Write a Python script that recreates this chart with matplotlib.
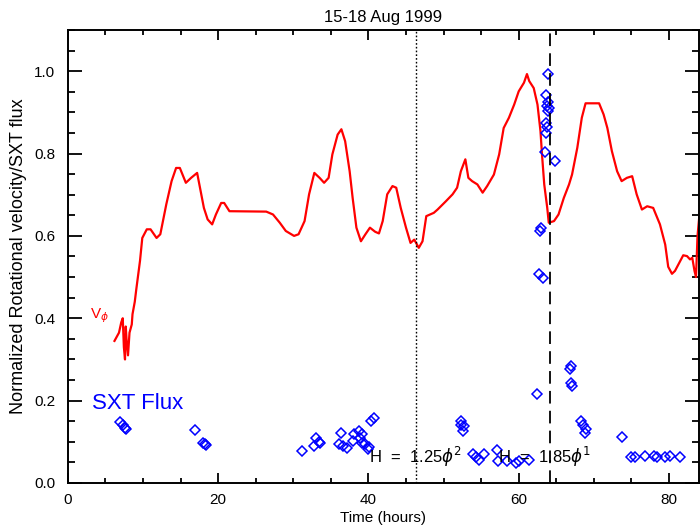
import matplotlib
matplotlib.use("Agg")
import matplotlib.pyplot as plt
from matplotlib.ticker import MultipleLocator, FormatStrFormatter

plt.rcParams['font.family'] = ['Liberation Sans', 'DejaVu Sans']
plt.rcParams['mathtext.fontset'] = 'dejavusans'

# Normalized rotational velocity V_phi (red curve)
vphi_t = [6.2, 6.8, 7.1, 7.3, 7.45, 7.6, 7.7, 7.8, 8.0, 8.2, 8.5, 8.6, 8.9, 9.1,
          9.6, 9.9, 10.5, 11.0, 11.8, 12.3, 13.1, 13.8, 14.4, 14.9, 15.7, 16.4,
          17.2, 17.5, 18.1, 18.6, 19.2, 19.7, 20.4, 20.8, 21.5, 26.4, 27.3, 28.2,
          29.0, 30.1, 30.7, 31.5, 32.1, 32.8, 33.5, 34.1, 34.7, 35.2, 35.9, 36.4,
          36.9, 37.5, 37.9, 38.4, 39.0, 39.6, 40.2, 40.9, 41.4, 41.9, 42.5, 43.2,
          43.7, 44.3, 45.0, 45.6, 46.1, 46.7, 47.2, 47.7, 48.7, 49.2, 50.3, 51.2,
          51.8, 52.3, 52.9, 53.3, 53.8, 54.5, 55.2, 55.8, 56.7, 57.4, 58.0, 58.7,
          59.4, 60.0, 60.7, 61.1, 61.4, 62.0, 62.5, 62.9, 63.1, 63.4, 63.8, 64.0,
          64.7, 65.3, 66.0, 66.7, 67.1, 67.8, 68.4, 68.9, 70.7, 71.3, 71.8, 72.4,
          73.1, 73.7, 74.4, 75.1, 75.7, 76.4, 77.1, 77.9, 78.8, 79.5, 79.9, 80.4,
          80.8, 81.5, 81.9, 82.4, 82.8, 83.1, 83.4, 83.6, 83.8, 84.2]
vphi_v = [0.345, 0.365, 0.39, 0.40, 0.33, 0.30, 0.38, 0.35, 0.31, 0.365, 0.385,
          0.41, 0.44, 0.47, 0.54, 0.595, 0.616, 0.616, 0.595, 0.604, 0.677, 0.733,
          0.765, 0.765, 0.729, 0.741, 0.753, 0.725, 0.668, 0.640, 0.628, 0.652,
          0.680, 0.680, 0.660, 0.659, 0.652, 0.632, 0.612, 0.600, 0.604, 0.636,
          0.701, 0.753, 0.741, 0.729, 0.741, 0.798, 0.846, 0.859, 0.830, 0.757,
          0.692, 0.620, 0.587, 0.604, 0.620, 0.610, 0.606, 0.636, 0.701, 0.721,
          0.717, 0.668, 0.620, 0.583, 0.591, 0.571, 0.587, 0.648, 0.656, 0.664,
          0.684, 0.701, 0.717, 0.757, 0.786, 0.741, 0.733, 0.725, 0.705, 0.721,
          0.749, 0.798, 0.862, 0.887, 0.919, 0.951, 0.972, 0.993, 0.976, 0.959,
          0.919, 0.854, 0.798, 0.725, 0.668, 0.632, 0.636, 0.652, 0.692, 0.725,
          0.749, 0.814, 0.887, 0.922, 0.922, 0.895, 0.862, 0.806, 0.757, 0.733,
          0.741, 0.745, 0.701, 0.664, 0.672, 0.668, 0.628, 0.579, 0.525, 0.508,
          0.515, 0.539, 0.553, 0.551, 0.543, 0.547, 0.515, 0.50, 0.60, 0.68]

# Normalized SXT flux (blue diamonds)
sxt_t = [6.9, 7.3, 7.6, 7.7, 16.9, 18.0, 18.2, 18.4, 31.2, 32.8, 33.0, 33.4, 33.6,
         36.3, 36.1, 36.6, 37.2, 37.9, 38.1, 38.8, 38.9, 39.1, 39.1, 39.5, 39.9,
         40.1, 40.3, 40.8, 52.3, 52.3, 52.6, 52.7, 53.9, 54.3, 54.7, 55.4, 57.1,
         57.3, 58.5, 59.6, 60.1, 61.4, 62.5, 62.7, 63.2, 62.9, 63.0, 63.5, 63.6,
         63.8, 63.7, 63.9, 63.8, 64.0, 63.9, 63.7, 63.9, 64.8, 66.9, 66.8, 67.0,
         67.1, 68.3, 68.5, 68.9, 68.8, 73.7, 74.9, 75.5, 76.8, 78.0, 78.4, 79.5,
         80.2, 81.5]
sxt_v = [0.148, 0.141, 0.134, 0.130, 0.129, 0.098, 0.094, 0.093, 0.078, 0.090,
         0.110, 0.100, 0.097, 0.122, 0.094, 0.090, 0.086, 0.102, 0.118, 0.126,
         0.110, 0.120, 0.098, 0.094, 0.082, 0.088, 0.150, 0.158, 0.150, 0.140,
         0.126, 0.138, 0.070, 0.063, 0.057, 0.070, 0.081, 0.053, 0.053, 0.049,
         0.053, 0.055, 0.215, 0.507, 0.498, 0.612, 0.620, 0.804, 0.851, 0.865,
         0.875, 0.903, 0.915, 0.910, 0.924, 0.942, 0.992, 0.782, 0.284, 0.276,
         0.243, 0.236, 0.150, 0.142, 0.130, 0.122, 0.112, 0.063, 0.063, 0.065,
         0.065, 0.062, 0.062, 0.065, 0.063]

# Event times marked by vertical lines
t_dotted = 46.3
t_dashed = 64.2

fig = plt.figure(figsize=(7.0, 5.31), dpi=100)
ax = fig.add_axes([0.097, 0.0904, 0.9016, 0.8531])

ax.plot(vphi_t, vphi_v, color='#ff0000', lw=1.6)
ax.plot(sxt_t, sxt_v, ls='none', marker='D', ms=5.2, mfc='none',
        mec='#0000ff', mew=1.1)

ax.axvline(t_dotted, color='black', lw=1.0, ls=(0, (1.2, 1.5)))
ax.axvline(t_dashed, color='black', lw=1.3, ls=(0, (7, 4)))

ax.text(2.9, 0.40, r'V$_{\phi}$', color='#ff0000', fontsize=11)
ax.text(3.15, 0.18, 'SXT Flux', color='#0000ff', fontsize=16)
ax.text(40.1, 0.048, r'H  =  1.25$\phi^{2}$', color='black', fontsize=12)
ax.text(57.2, 0.048, r'H  =  1.85$\phi^{1}$', color='black', fontsize=12)

ax.set_xlim(0, 84)
ax.set_ylim(0, 1.1)
ax.xaxis.set_major_locator(MultipleLocator(20))
ax.xaxis.set_minor_locator(MultipleLocator(5))
ax.yaxis.set_major_locator(MultipleLocator(0.2))
ax.yaxis.set_minor_locator(MultipleLocator(0.05))
ax.yaxis.set_major_formatter(FormatStrFormatter('%.1f'))

ax.tick_params(axis='both', which='both', direction='in', top=True, right=True,
               width=1.3, labelsize=11)
ax.tick_params(axis='y', which='major', length=10, pad=9)
ax.tick_params(axis='y', which='minor', length=5)
ax.tick_params(axis='x', which='major', length=7, pad=7)
ax.tick_params(axis='x', which='minor', length=3.5)
for s in ax.spines.values():
    s.set_linewidth(1.4)

ax.set_title('15-18 Aug 1999', fontsize=12, pad=6)
ax.set_xlabel('Time (hours)', fontsize=11, labelpad=3)
ax.set_ylabel('Normalized Rotational velocity/SXT flux', fontsize=13, labelpad=5)

fig.savefig('out.png', dpi=100)
